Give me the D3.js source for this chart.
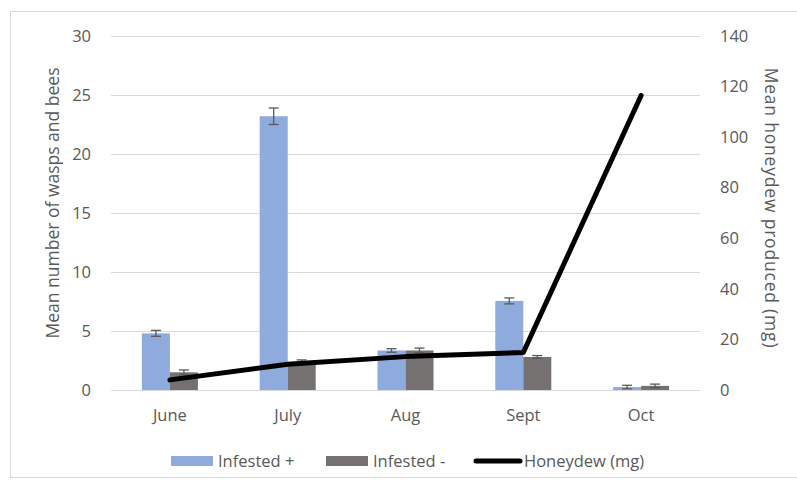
<!DOCTYPE html>
<html>
<head>
<meta charset="utf-8">
<script src="https://cdn.jsdelivr.net/npm/d3@7"></script>
<style>
  body { margin: 0; background: #fff; }
  text { font-family: "Open Sans", sans-serif; fill: #595959; }
</style>
</head>
<body>
<div id="chart"></div>
<script>
// values
const months = ["June", "July", "Aug", "Sept", "Oct"];
const infestedPlus = [4.8, 23.2, 3.35, 7.55, 0.25];
const infestedPlusErr = [0.25, 0.7, 0.15, 0.25, 0.15];
const infestedMinus = [1.5, 2.35, 3.35, 2.8, 0.35];
const infestedMinusErr = [0.2, 0.2, 0.2, 0.12, 0.15];
const honeydew = [4, 10.2, 13.2, 14.8, 116.5];
const leftTicks = [0, 5, 10, 15, 20, 25, 30];
const rightTicks = [0, 20, 40, 60, 80, 100, 120, 140];

const width = 797, height = 487;
const plot = { left: 111, right: 700, top: 36, bottom: 390 };

const svg = d3.select("#chart").append("svg")
    .attr("width", width)
    .attr("height", height);

// outer frame
svg.append("rect")
    .attr("x", 10.5).attr("y", 11.5)
    .attr("width", 800).attr("height", 466)
    .attr("fill", "none")
    .attr("stroke", "#d9d9d9");

let x = d3.scaleBand().domain(months).range([plot.left, plot.right]);
let yLeft = d3.scaleLinear().domain([0, 30]).range([plot.bottom, plot.top]);
let yRight = d3.scaleLinear().domain([0, 140]).range([plot.bottom, plot.top]);

let series = [
    { name: "Infested +", values: infestedPlus, err: infestedPlusErr, color: "#8faadc" },
    { name: "Infested -", values: infestedMinus, err: infestedMinusErr, color: "#767171" }
];
let inner = d3.scaleBand().domain(series.map(s => s.name)).range([-28, 28]);

// grid
svg.append("g").selectAll("line")
    .data(leftTicks)
    .join("line")
    .attr("x1", plot.left).attr("x2", plot.right)
    .attr("y1", d => Math.round(yLeft(d)) + 0.5)
    .attr("y2", d => Math.round(yLeft(d)) + 0.5)
    .attr("stroke", "#d9d9d9")
    .attr("stroke-width", 1);

// left axis
let leftAxis = svg.append("g")
    .attr("transform", `translate(${plot.left},0)`)
    .call(d3.axisLeft(yLeft).tickValues(leftTicks).tickSize(0).tickPadding(20));
leftAxis.select(".domain").remove();
leftAxis.selectAll("text").style("font-size", "16.5px").attr("fill", "#595959");

// right axis
let rightAxis = svg.append("g")
    .attr("transform", `translate(${plot.right},0)`)
    .call(d3.axisRight(yRight).tickValues(rightTicks).tickSize(0).tickPadding(20));
rightAxis.select(".domain").remove();
rightAxis.selectAll("text").style("font-size", "16.5px").attr("fill", "#595959");

// x axis labels
let xAxis = svg.append("g")
    .attr("transform", `translate(0,${plot.bottom})`)
    .call(d3.axisBottom(x).tickSize(0).tickPadding(19));
xAxis.select(".domain").remove();
xAxis.selectAll("text").style("font-size", "16.5px").attr("fill", "#595959");

// bars
for (let s of series) {
    let g = svg.append("g");
    g.selectAll("rect")
        .data(months)
        .join("rect")
        .attr("x", (d, i) => x(d) + x.bandwidth() / 2 + inner(s.name))
        .attr("width", inner.bandwidth())
        .attr("y", (d, i) => yLeft(s.values[i]))
        .attr("height", (d, i) => yLeft(0) - yLeft(s.values[i]))
        .attr("fill", s.color);

    // error bars
    let eg = svg.append("g").attr("stroke", "#595959").attr("stroke-width", 1.3);
    months.forEach((m, i) => {
        let cx = x(m) + x.bandwidth() / 2 + inner(s.name) + inner.bandwidth() / 2;
        let lo = yLeft(s.values[i] - s.err[i]);
        let hi = yLeft(s.values[i] + s.err[i]);
        eg.append("line").attr("x1", cx).attr("x2", cx).attr("y1", lo).attr("y2", hi);
        eg.append("line").attr("x1", cx - 5).attr("x2", cx + 5).attr("y1", lo).attr("y2", lo);
        eg.append("line").attr("x1", cx - 5).attr("x2", cx + 5).attr("y1", hi).attr("y2", hi);
    });
}

// honeydew line
let line = d3.line()
    .x((d, i) => x(months[i]) + x.bandwidth() / 2)
    .y(d => yRight(d));
svg.append("path")
    .datum(honeydew)
    .attr("d", line)
    .attr("fill", "none")
    .attr("stroke", "#000")
    .attr("stroke-width", 5)
    .attr("stroke-linecap", "round")
    .attr("stroke-linejoin", "round");

// axis titles
svg.append("text")
    .attr("transform", "translate(59,203) rotate(-90)")
    .attr("text-anchor", "middle")
    .style("font-size", "17.5px")
    .text("Mean number of wasps and bees");

svg.append("text")
    .attr("transform", "translate(765,208) rotate(90)")
    .attr("text-anchor", "middle")
    .style("font-size", "17.5px")
    .style("letter-spacing", "0.8px")
    .text("Mean honeydew produced (mg)");

// legend
let legendItems = [
    { name: "Infested +", type: "rect", color: "#8faadc", x: 171 },
    { name: "Infested -", type: "rect", color: "#767171", x: 326 },
    { name: "Honeydew (mg)", type: "line", color: "#000", x: 476 }
];
let legend = svg.append("g").attr("transform", "translate(0,461)");
let item = legend.selectAll("g")
    .data(legendItems)
    .join("g")
    .attr("transform", d => `translate(${d.x},0)`);
item.filter(d => d.type === "rect").append("rect")
    .attr("x", 0).attr("y", -5).attr("width", 42).attr("height", 10)
    .attr("fill", d => d.color);
item.filter(d => d.type === "line").append("line")
    .attr("x1", 0).attr("x2", 44).attr("y1", 0).attr("y2", 0)
    .attr("stroke", d => d.color).attr("stroke-width", 5)
    .attr("stroke-linecap", "round");
item.append("text")
    .attr("x", d => d.type === "line" ? 48 : 47)
    .attr("y", 0)
    .attr("dy", "0.35em")
    .style("font-size", "16.5px")
    .text(d => d.name);
</script>
</body>
</html>
